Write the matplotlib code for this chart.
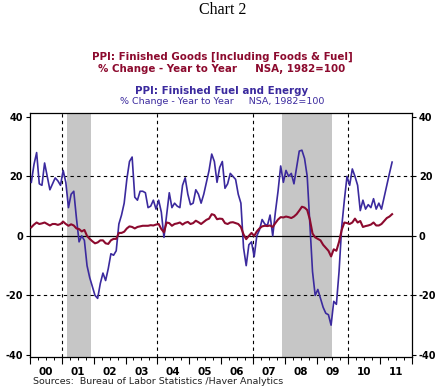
import numpy as np
import matplotlib
matplotlib.use('Agg')
import matplotlib.pyplot as plt
import matplotlib.transforms as mtransforms

# monthly y/y % change, Jan 2000 - May 2011
fuel_energy = [
    18, 24, 28, 17.5, 17, 24.5, 20, 15.5, 17.5, 19.5, 18.5, 17,        # 2000
    22, 18, 9.5, 14, 15, 6, -2, 0, -1.5, -10, -14, -17,                 # 2001
    -20, -21, -16, -12.5, -15, -11, -6, -6.5, -5, 4, 7, 11,             # 2002
    19, 25, 26.5, 13, 12, 15, 15, 14.5, 9.5, 10, 12, 9,                 # 2003
    12, 8, -0.5, 7, 14.5, 9.5, 11, 10, 9.5, 17, 19.5, 14,               # 2004
    10.5, 11, 15.5, 14, 11, 14, 18, 22, 27.5, 25, 18, 23,               # 2005
    25, 16, 17.5, 21, 20, 19, 14, 11, -4, -10, -3, -2,                  # 2006
    -7, 0, 2, 5.5, 4, 3.5, 7, 0, 8, 15, 23.5, 18,                       # 2007
    22, 20, 21, 17.5, 23, 28.5, 28.8, 26, 20, 4, -12, -20,              # 2008
    -18, -21, -24, -26, -26.5, -30, -22, -23, -12, 3, 12, 20,           # 2009
    17, 22.5, 20, 17, 8.5, 12, 9, 10.5, 9.5, 12.5, 9, 11,               # 2010
    9, 13, 17, 21, 24.8,                                                # 2011
]
finished_goods = [
    2.9, 3.8, 4.5, 4, 4.2, 4.5, 4, 3.5, 4, 4, 3.7, 4,                   # 2000
    4.8, 4, 3.4, 3.9, 3.5, 2.5, 2.3, 1.5, 2, 0, -1, -1.8,               # 2001
    -2.5, -2.2, -1.5, -1.5, -2.5, -2.7, -1.5, -1, -1, 1, 1, 1.4,        # 2002
    2.5, 3.2, 3, 2.5, 3, 3.2, 3.4, 3.4, 3.4, 3.6, 3.5, 3.8,             # 2003
    4, 2.3, 1.2, 4.5, 4.3, 3.4, 4, 4.2, 4.5, 3.8, 4.4, 4.7,             # 2004
    4, 4.3, 5.1, 4.6, 4, 4.7, 5.4, 5.8, 7.3, 7, 5.6, 5.8,               # 2005
    5.7, 4.3, 4, 4.5, 4.6, 4.3, 4, 3, 0.5, -1.1, 0, 1,                  # 2006
    0, 1.5, 2.5, 3.2, 3.4, 3.3, 3.5, 3, 4.3, 5.5, 6.3, 6.2,             # 2007
    6.5, 6.3, 6, 6.5, 7.3, 8.5, 9.8, 9.5, 8.7, 5.5, 0.8, -0.5,          # 2008
    -1, -1.5, -3, -4, -5, -6.9, -4.5, -5, -2, 2, 4.5, 4.3,              # 2009
    4, 4.5, 5.8, 4.5, 5, 3, 3.3, 3.5, 3.8, 4.5, 3.5, 3.5,               # 2010
    4, 5, 6, 6.5, 7.3,                                                  # 2011
]
year_labels = ['00', '01', '02', '03', '04', '05', '06', '07', '08', '09', '10', '11']
recessions = [(2001.17, 2001.92), (2007.92, 2009.5)]

t = 2000 + (np.arange(len(fuel_energy)) + 0.5) / 12

blue = '#3b2a9e'
red = '#8c0a2e'

fig = plt.figure(figsize=(4.45, 3.87), dpi=100)
ax = fig.add_axes([30/445, 1 - 357/387, 382/445, 244/387])

for a, b in recessions:
    ax.axvspan(a, b, color='#c6c6c6', lw=0, zorder=0)

for yv in (-20, 20):
    ax.axhline(yv, color='black', lw=0.8, dashes=(3, 3), zorder=1)
for xv in (2001, 2004, 2007, 2010):
    ax.axvline(xv, color='black', lw=0.8, dashes=(3, 3), zorder=1)
ax.axhline(0, color='black', lw=0.9, zorder=1)

ax.plot(t, fuel_energy, color=blue, lw=1.2, zorder=3)
ax.plot(t, finished_goods, color=red, lw=1.5, zorder=4)

ax.set_xlim(2000, 2012)
ax.set_ylim(-40.7, 41.3)
ax.set_yticks([-40, -20, 0, 20, 40])
ax.set_yticklabels(['-40', '-20', '0', '20', '40'], fontweight='bold', fontsize=7)
ax.tick_params(axis='y', left=True, right=True, labelleft=True, labelright=True,
               direction='out', length=3, width=0.8, pad=2)
ax.set_xticks(np.arange(2000, 2013))
ax.set_xticks(np.arange(2000, 2012, 0.25), minor=True)
ax.set_xticklabels([])
ax.tick_params(axis='x', which='major', direction='out', length=5, width=0.8)
ax.tick_params(axis='x', which='minor', direction='out', length=2.5, width=0.7)
for s in ax.spines.values():
    s.set_linewidth(0.9)

trans = mtransforms.blended_transform_factory(ax.transData, fig.transFigure)
for k, lab in enumerate(year_labels):
    ax.text(2000.5 + k, 1 - 372/387, lab, transform=trans, ha='center', va='center',
            fontsize=7.5, fontweight='bold')

fig.text(0.5, 1 - 10/387, 'Chart 2', ha='center', va='center',
         family='Liberation Serif', fontsize=11.5)
fig.text(222/445, 1 - 57/387, 'PPI: Finished Goods [Including Foods & Fuel]',
         ha='center', va='center', color=red, fontsize=7.4, fontweight='bold')
fig.text(222/445, 1 - 69/387, '% Change - Year to Year     NSA, 1982=100',
         ha='center', va='center', color=red, fontsize=7.4, fontweight='bold')
fig.text(222/445, 1 - 90.5/387, 'PPI: Finished Fuel and Energy',
         ha='center', va='center', color=blue, fontsize=7.4, fontweight='bold')
fig.text(222/445, 1 - 102/387, '% Change - Year to Year     NSA, 1982=100',
         ha='center', va='center', color=blue, fontsize=6.8)
fig.text(33/445, 1 - 381/387, 'Sources:  Bureau of Labor Statistics /Haver Analytics',
         ha='left', va='center', color='#222222', fontsize=6.8)

fig.savefig('out.png', dpi=100)
